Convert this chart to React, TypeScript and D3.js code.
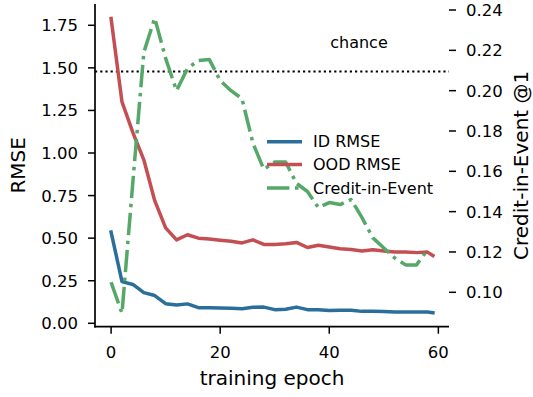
import React from "react";
import * as d3 from "d3";

// epochs at which the metrics were logged
const epochs = [0, 2, 4, 6, 8, 10, 12, 14, 16, 18, 20, 22, 24, 26, 28, 30, 32, 34, 36, 38, 40, 42, 44, 46, 48, 50, 52, 54, 56, 58, 59];

const idRmse = [0.535, 0.245, 0.228, 0.18, 0.163, 0.115, 0.107, 0.114, 0.092, 0.091, 0.09, 0.088, 0.086, 0.094, 0.095, 0.08, 0.082, 0.095, 0.08, 0.08, 0.075, 0.076, 0.076, 0.07, 0.07, 0.069, 0.067, 0.066, 0.066, 0.066, 0.062];

const oodRmse = [1.79, 1.3, 1.12, 0.96, 0.72, 0.56, 0.49, 0.52, 0.5, 0.495, 0.488, 0.482, 0.472, 0.49, 0.463, 0.463, 0.467, 0.475, 0.445, 0.458, 0.448, 0.438, 0.433, 0.425, 0.432, 0.425, 0.418, 0.418, 0.415, 0.418, 0.398];

// no credit value at the last epoch
const creditInEvent = [0.105, 0.0896, 0.155, 0.219, 0.236, 0.216, 0.2, 0.211, 0.215, 0.2155, 0.205, 0.2, 0.196, 0.174, 0.161, 0.1646, 0.1646, 0.154, 0.15, 0.142, 0.1445, 0.1435, 0.146, 0.137, 0.127, 0.122, 0.117, 0.1136, 0.1136, 0.121, null];

const chanceLevel = 0.2095;

const xTicks = [0, 20, 40, 60];
const leftTicks = [0, 0.25, 0.5, 0.75, 1.0, 1.25, 1.5, 1.75];
const rightTicks = [0.1, 0.12, 0.14, 0.16, 0.18, 0.2, 0.22, 0.24];

const seriesNames = ["ID RMSE", "OOD RMSE", "Credit-in-Event"];

const BLUE = "#2a6f9b";
const RED = "#c44e52";
const GREEN = "#55a868";
const FONT = "DejaVu Sans, sans-serif";
const DASHDOT = "22.4,5.6,3.5,5.6";

export default function App() {
  const W = 533;
  const H = 397;
  const left = 95, right = 449, top = 4, bottom = 326.7;

  const x = d3.scaleLinear().domain([-2.95, 61.95]).range([left, right]);
  const yL = d3.scaleLinear().domain([-0.02, 1.875]).range([bottom, top]);
  const yR = d3.scaleLinear().domain([0.08294, 0.24298]).range([bottom, top]);

  const lineL = d3
    .line<number>()
    .x((d, i) => x(epochs[i]))
    .y((d) => yL(d));
  const lineR = d3
    .line<number | null>()
    .defined((d) => d != null)
    .x((d, i) => x(epochs[i]))
    .y((d) => yR(d as number));

  const tickLen = 7;
  const legendX = 267;
  const legendY = [141.7, 164.5, 188];
  const legendColors = [BLUE, RED, GREEN];

  return (
    <div style={{ position: "absolute", left: 0, top: 0 }}>
      <svg width={W} height={H} style={{ display: "block", background: "#fff" }}>
        {/* chance line on the right axis */}
        <line
          x1={left}
          x2={right}
          y1={yR(chanceLevel)}
          y2={yR(chanceLevel)}
          stroke="#000"
          strokeWidth={2.2}
          strokeDasharray="2.2,3"
        />
        <text x={359} y={48} fontFamily={FONT} fontSize={16} textAnchor="middle">
          chance
        </text>

        {/* RMSE lines */}
        <path d={lineL(idRmse) || ""} fill="none" stroke={BLUE} strokeWidth={3.5} strokeLinejoin="round" strokeLinecap="square" />
        <path d={lineL(oodRmse) || ""} fill="none" stroke={RED} strokeWidth={3.5} strokeLinejoin="round" strokeLinecap="square" />

        {/* twin axis line */}
        <path d={lineR(creditInEvent) || ""} fill="none" stroke={GREEN} strokeWidth={3.5} strokeLinejoin="round" strokeDasharray={DASHDOT} />

        {/* spines */}
        <line x1={left} x2={left} y1={top} y2={bottom + 0.8} stroke="#000" strokeWidth={1.7} />
        <line x1={left - 0.8} x2={right} y1={bottom} y2={bottom} stroke="#000" strokeWidth={1.7} />

        {/* x axis */}
        {xTicks.map((t) => (
          <g key={"x" + t}>
            <line x1={x(t)} x2={x(t)} y1={bottom} y2={bottom + tickLen} stroke="#000" strokeWidth={1.5} />
            <text x={x(t)} y={357.5} fontFamily={FONT} fontSize={16.5} textAnchor="middle">
              {t}
            </text>
          </g>
        ))}
        <text x={(left + right) / 2} y={385} fontFamily={FONT} fontSize={20} textAnchor="middle">
          training epoch
        </text>

        {/* left axis */}
        {leftTicks.map((t) => (
          <g key={"l" + t}>
            <line x1={left - tickLen} x2={left} y1={yL(t)} y2={yL(t)} stroke="#000" strokeWidth={1.5} />
            <text x={78} y={yL(t)} dy="0.36em" fontFamily={FONT} fontSize={16.5} textAnchor="end">
              {t.toFixed(2)}
            </text>
          </g>
        ))}
        <text
          transform={`translate(25,${(top + bottom) / 2}) rotate(-90)`}
          fontFamily={FONT}
          fontSize={20}
          textAnchor="middle"
        >
          RMSE
        </text>

        {/* right axis (no spine) */}
        {rightTicks.map((t) => (
          <g key={"r" + t}>
            <line x1={right} x2={right + tickLen} y1={yR(t)} y2={yR(t)} stroke="#000" strokeWidth={1.5} />
            <text x={466} y={yR(t)} dy="0.36em" fontFamily={FONT} fontSize={16.5}>
              {t.toFixed(2)}
            </text>
          </g>
        ))}
        <text
          transform={`translate(528,${(top + bottom) / 2}) rotate(-90)`}
          fontFamily={FONT}
          fontSize={20}
          textAnchor="middle"
        >
          Credit-in-Event @1
        </text>

        {/* legend */}
        {seriesNames.map((name, i) => (
          <g key={name}>
            <line
              x1={legendX}
              x2={legendX + 35}
              y1={legendY[i]}
              y2={legendY[i]}
              stroke={legendColors[i]}
              strokeWidth={3.5}
              strokeDasharray={i === 2 ? DASHDOT : undefined}
            />
            <text x={313} y={legendY[i]} dy="0.36em" fontFamily={FONT} fontSize={16}>
              {name}
            </text>
          </g>
        ))}
      </svg>
    </div>
  );
}
